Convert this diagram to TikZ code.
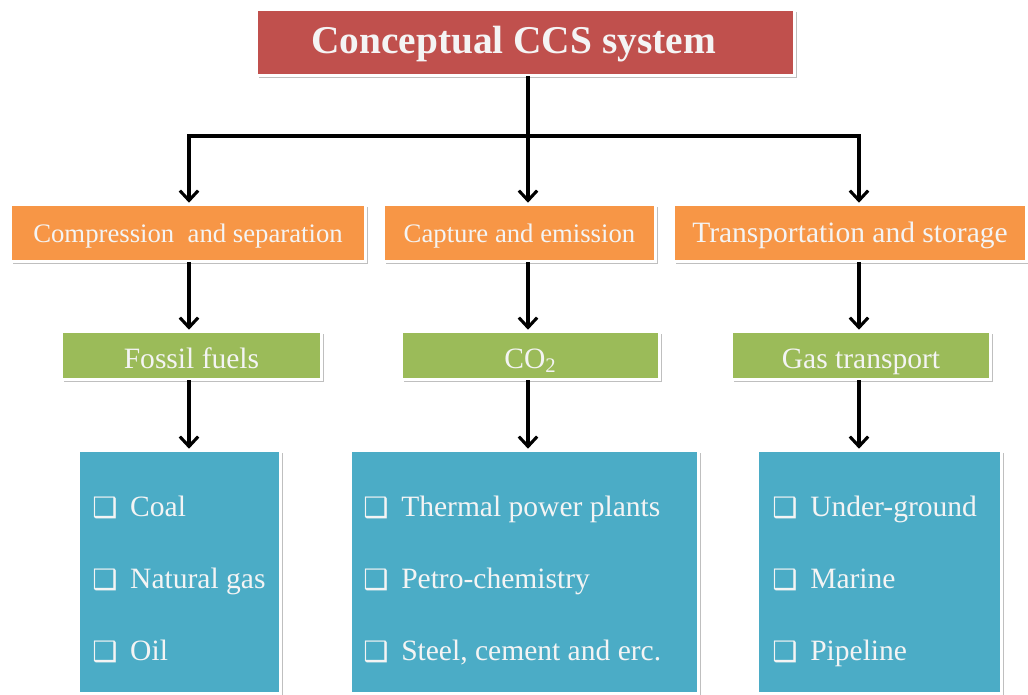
\documentclass[tikz,border=0pt]{standalone}
\usepackage{fontspec}
\setmainfont{Liberation Serif}
\newfontfamily\symfont{DejaVu Sans}
\usetikzlibrary{arrows.meta,shadows}

\definecolor{ccsred}{HTML}{C0504D}
\definecolor{ccsorange}{HTML}{F79646}
\definecolor{ccsgreen}{HTML}{9BBB59}
\definecolor{ccsblue}{HTML}{4BACC6}
\definecolor{ccstext}{HTML}{F4F4F4}

\newcommand{\chkbox}{\makebox[27pt][l]{\raisebox{-0.5pt}{\symfont\fontsize{20}{20}\selectfont ❑}}}

\begin{document}
\begin{tikzpicture}[x=0.025cm,y=-0.025cm,
    box/.style={draw=white,line width=2.5pt,text=ccstext,inner sep=0pt,
      drop shadow={shadow xshift=1.8pt,shadow yshift=-1.8pt,opacity=0.25,fill=black}},
    headbox/.style={box,fill=ccsred,minimum width=13.45cm,minimum height=1.65cm,
      text height=18pt,text depth=1.8pt,
      font=\fontsize{28}{32}\selectfont\bfseries},
    taskbox/.style={box,fill=ccsorange,minimum height=1.425cm,
      text height=14pt,text depth=0pt,
      font=\fontsize{19}{22}\selectfont},
    topicbox/.style={box,fill=ccsgreen,minimum height=1.2cm,
      text height=18pt,text depth=0pt,
      font=\fontsize{21}{24}\selectfont},
    listbox/.style={box,fill=ccsblue,minimum height=6.075cm},
    item/.style={anchor=west,text=ccstext,inner sep=0pt,
      text height=13.9pt,text depth=0pt,
      font=\fontsize{21}{24}\selectfont},
    link/.style={line width=2.2pt,line cap=rect},
    arrow/.style={link,-{Straight Barb[length=7pt,width=13pt]}}]
  \useasboundingbox (0,0) rectangle (1028,695);
  %% Title
  \node[headbox] (title) at (525.5,42.5) {\hspace*{-17pt}Conceptual CCS system};
  %% Tasks
  \node[taskbox,minimum width=8.875cm] (comp) at (188,233) {Compression\ \ and separation};
  \node[taskbox,minimum width=6.8cm] (capt) at (519.5,233) {Capture and emission};
  \node[taskbox,minimum width=8.825cm,font=\fontsize{21}{24}\selectfont] (trans) at (850,233) {Transportation and storage};
  %% Topics
  \node[topicbox,minimum width=6.5cm] (fossil) at (191.5,355.5) {Fossil fuels};
  \node[topicbox,minimum width=6.45cm] (cotwo) at (530.5,355.5) {CO\textsubscript{2}};
  \node[topicbox,minimum width=6.475cm] (gas) at (861,355.5) {Gas transport};
  %% Lists
  \node[listbox,minimum width=5.05cm] (fuels) at (179.5,572) {};
  \node[listbox,minimum width=8.7cm] (sources) at (524.5,572) {};
  \node[listbox,minimum width=6.1cm] (storage) at (879.5,572) {};
  \node[item] (coal) at (92,507) {\chkbox Coal};
  \node[item] (natgas) at (92,579) {\chkbox Natural gas};
  \node[item] (oil) at (92,651) {\chkbox Oil};
  \node[item] (thermal) at (363,507) {\chkbox Thermal power plants};
  \node[item] (petro) at (363,579) {\chkbox Petro-chemistry};
  \node[item] (steel) at (363,651) {\chkbox Steel, cement and erc.};
  \node[item] (under) at (772,507) {\chkbox Under-ground};
  \node[item] (marine) at (772,579) {\chkbox Marine};
  \node[item] (pipe) at (772,651) {\chkbox Pipeline};
  %% Connectors
  \coordinate (col1) at (189,136);
  \coordinate (col2) at (528,136);
  \coordinate (col3) at (859,136);
  \draw[link] (col2 |- title.south) -- (col2);
  \draw[link] (col1) -- (col3);
  \draw[arrow] (col1) -- (col1 |- comp.north);
  \draw[arrow] (col2) -- (col2 |- capt.north);
  \draw[arrow] (col3) -- (col3 |- trans.north);
  \draw[arrow] (col1 |- comp.south) -- (col1 |- fossil.north);
  \draw[arrow] (col2 |- capt.south) -- (col2 |- cotwo.north);
  \draw[arrow] (col3 |- trans.south) -- (col3 |- gas.north);
  \draw[arrow] (col1 |- fossil.south) -- (col1 |- fuels.north);
  \draw[arrow] (col2 |- cotwo.south) -- (col2 |- sources.north);
  \draw[arrow] (col3 |- gas.south) -- (col3 |- storage.north);
\end{tikzpicture}
\end{document}
